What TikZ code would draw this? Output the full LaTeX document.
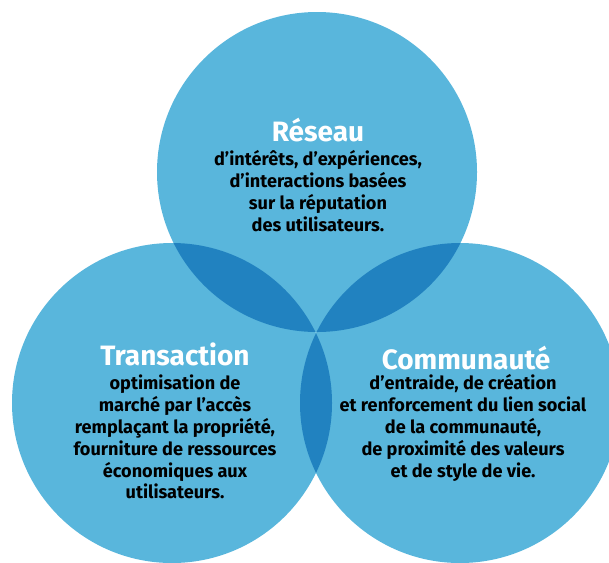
\documentclass[tikz,border=0pt]{standalone}
\usepackage{fontspec}
\setmainfont{Fira Sans}

\definecolor{vennblue}{RGB}{89,182,220}
\definecolor{venndark}{RGB}{33,130,192}

\tikzset{every picture/.style={line width=0.75pt}}
\tikzset{
  titletext/.style={text=white, font=\bfseries\fontsize{21}{24}\selectfont, inner sep=0pt},
  bodytext/.style={text=black, font=\bfseries\fontsize{13.6}{16.4}\selectfont, align=center, inner sep=0pt},
}

\begin{document}
\begin{tikzpicture}[x=0.75pt,y=0.75pt,yscale=-1,xscale=1]
\useasboundingbox (0,0) rectangle (609,562);

\coordinate (ctop) at (317,172);
\coordinate (cleft) at (172,403);
\coordinate (cright) at (460,403);

%Shape: Circle [reseau]
\fill [vennblue] (ctop) circle (160);
%Shape: Circle [transaction]
\fill [vennblue] (cleft) circle (160);
%Shape: Circle [communaute]
\fill [vennblue] (cright) circle (160);

%Overlaps
\begin{scope}
  \clip (ctop) circle (160);
  \fill [venndark] (cleft) circle (160);
  \fill [venndark] (cright) circle (160);
\end{scope}
\begin{scope}
  \clip (cleft) circle (160);
  \fill [venndark] (cright) circle (160);
\end{scope}

% Text Node
\node [titletext] (reseau) at (318,130) {Réseau};
\node [bodytext] (reseaubody) at (318,191) {d’intérêts, d’expériences,\\ d’interactions basées\\ sur la réputation\\ des utilisateurs.};
% Text Node
\node [titletext] (transaction) at (175,354) {Transaction};
\node [bodytext] (transactionbody) at (175,437) {optimisation de\\ marché par l’accès\\ remplaçant la propriété,\\ fourniture de ressources\\ économiques aux\\ utilisateurs.};
% Text Node
\node [titletext] (communaute) at (466,358) {Communauté};
\node [bodytext] (communautebody) at (463,428) {d’entraide, de création\\ et renforcement du lien social\\ de la communauté,\\ de proximité des valeurs\\ et de style de vie.};

\end{tikzpicture}
\end{document}
